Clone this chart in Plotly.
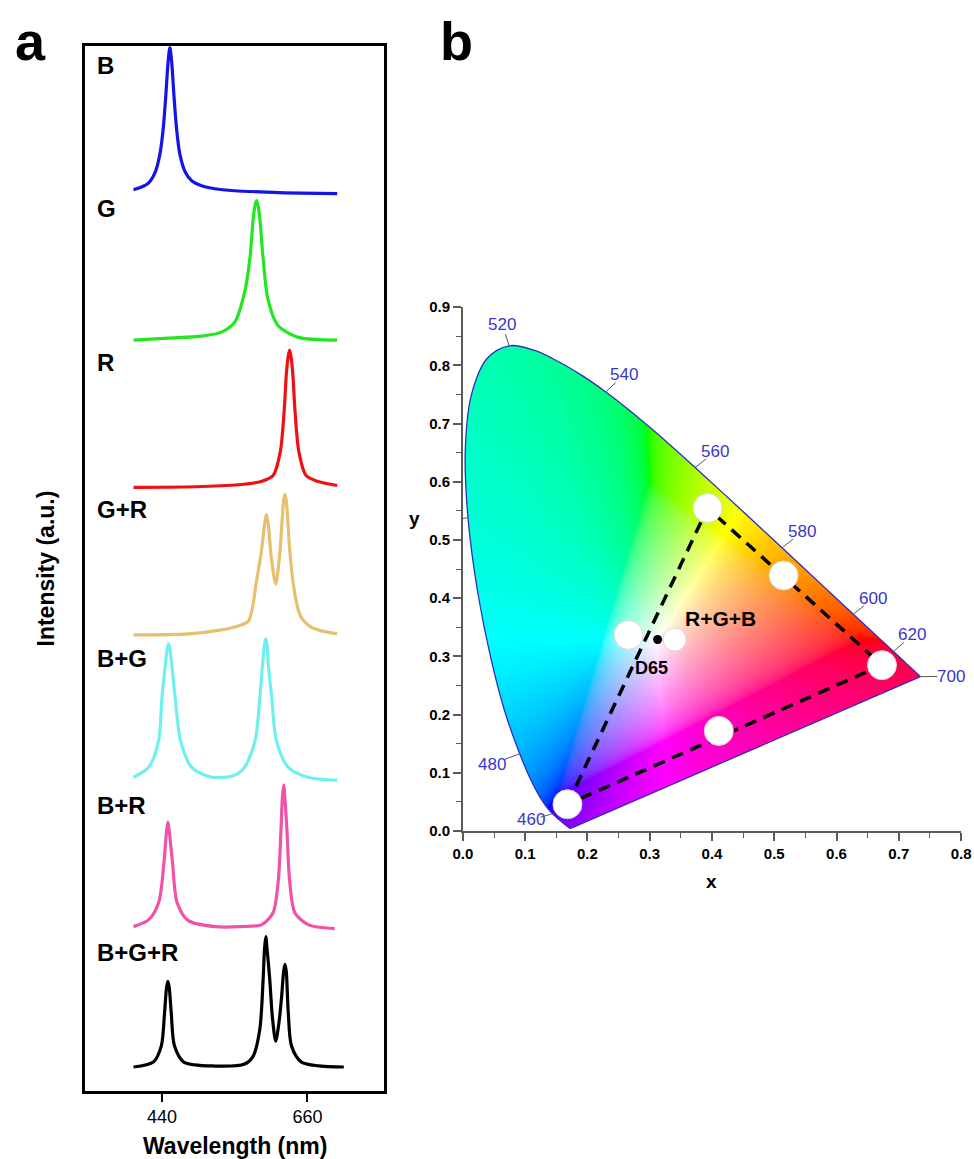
import numpy as np
import plotly.graph_objects as go
import zlib, struct, base64

# ---------------- Panel a data (wavelength nm, intensity above own baseline, a.u.) ----------------
B_WL = [397, 410, 420, 430, 437, 442, 446, 449, 452, 455, 458, 462, 467, 475, 485, 500, 520, 550, 600, 650, 705]
B_I = [4, 7, 11, 22, 40, 66, 100, 130, 147, 130, 100, 66, 40, 22, 13, 8, 5, 3, 1.5, 0.5, 0]

G_WL = [397, 450, 500, 530, 550, 565, 573, 578, 581, 583, 585, 588, 593, 600, 615, 645, 705]
G_I = [0, 2, 4, 8, 18, 48, 82, 122, 136, 140, 136, 122, 82, 42, 15, 3, 0]

R_WL = [397, 500, 560, 590, 608, 619, 625, 628, 631, 633, 635, 638, 641, 647, 658, 676, 705]
R_I = [0, 1, 3, 6, 12, 36, 79, 113, 132, 138, 132, 113, 79, 36, 12, 6, 2]

GR_WL = [397, 480, 530, 555, 571, 583, 591, 595, 598, 601, 605, 612, 618, 622, 624, 626, 628, 630, 633, 638, 645, 651, 665, 681, 705]
GR_I = [0, 1, 5, 9, 14, 54, 87, 110, 121, 110, 80, 51, 80, 118, 135, 141, 135, 118, 87, 54, 28, 17, 8, 4, 1]

BG_WL = [397, 420, 435, 440, 445, 448, 450, 452, 455, 460, 468, 485, 515, 550, 565, 581, 588, 592, 595, 597, 599, 601, 606, 613, 631, 661, 705]
BG_I = [3, 13, 40, 83, 115, 132, 137, 132, 115, 83, 40, 13, 3, 5, 13, 40, 83, 115, 136, 142, 136, 115, 83, 40, 13, 3, 0]

BR_WL = [397, 420, 435, 443, 447, 449, 451, 456, 463, 480, 520, 560, 591, 608, 616, 620, 622, 624, 626, 629, 633, 641, 661, 701]
BR_I = [2, 9, 26, 66, 98, 107, 98, 66, 26, 8, 2, 2, 4, 16, 49, 99, 130, 144, 130, 99, 49, 16, 4, 0]

BGR_WL = [397, 427, 439, 444, 447, 449, 451, 454, 459, 473, 520, 565, 578, 588, 593, 595, 597, 599, 603, 607, 612, 617, 621, 624, 626, 628, 631, 636, 651, 715]
BGR_I = [0, 5, 21, 55, 80, 86, 80, 55, 21, 5, 1, 3, 11, 38, 88, 118, 131, 118, 88, 50, 26, 45, 71, 96, 103, 96, 55, 21, 5, 0]

SPEC_NAMES = ["B", "G", "R", "G+R", "B+G", "B+R", "B+G+R"]
SPEC_WL = [B_WL, G_WL, R_WL, GR_WL, BG_WL, BR_WL, BGR_WL]
SPEC_I = [B_I, G_I, R_I, GR_I, BG_I, BR_I, BGR_I]
BASELINES = [901, 754, 606, 458, 312, 163, 24]
SPEC_COLORS = ["#1414e6", "#22e622", "#ee1111", "#e6c06e", "#6ff0ee", "#f052a8", "#000000"]
LABEL_Y = [1030, 886, 732, 584, 434, 287, 139]
X_TICKS_A = [440, 660]

# ---------------- Panel b data: CIE 1931 spectral locus ----------------
LOCUS_WL = list(range(380, 705, 5))
LOCUS_X = [0.1741, 0.1740, 0.1738, 0.1736, 0.1733, 0.1730, 0.1726, 0.1721, 0.1714, 0.1703,
           0.1689, 0.1669, 0.1644, 0.1611, 0.1566, 0.1510, 0.1440, 0.1355, 0.1241, 0.1096,
           0.0913, 0.0687, 0.0454, 0.0235, 0.0082, 0.0039, 0.0139, 0.0389, 0.0743, 0.1142,
           0.1547, 0.1929, 0.2296, 0.2658, 0.3016, 0.3373, 0.3731, 0.4087, 0.4441, 0.4788,
           0.5125, 0.5448, 0.5752, 0.6029, 0.6270, 0.6482, 0.6658, 0.6801, 0.6915, 0.7006,
           0.7079, 0.7140, 0.7190, 0.7230, 0.7260, 0.7283, 0.7300, 0.7311, 0.7320, 0.7327,
           0.7334, 0.7340, 0.7344, 0.7346, 0.7347]
LOCUS_Y = [0.0050, 0.0050, 0.0049, 0.0049, 0.0048, 0.0048, 0.0048, 0.0048, 0.0051, 0.0058,
           0.0069, 0.0086, 0.0109, 0.0138, 0.0177, 0.0227, 0.0297, 0.0399, 0.0578, 0.0868,
           0.1327, 0.2007, 0.2950, 0.4127, 0.5384, 0.6548, 0.7502, 0.8120, 0.8338, 0.8262,
           0.8059, 0.7816, 0.7543, 0.7243, 0.6923, 0.6589, 0.6245, 0.5896, 0.5547, 0.5202,
           0.4866, 0.4544, 0.4242, 0.3965, 0.3725, 0.3514, 0.3340, 0.3197, 0.3083, 0.2993,
           0.2920, 0.2859, 0.2809, 0.2770, 0.2740, 0.2717, 0.2700, 0.2689, 0.2680, 0.2673,
           0.2666, 0.2660, 0.2656, 0.2654, 0.2653]

WL_LABELS = [460, 480, 500, 520, 540, 560, 580, 600, 620, 700]
WL_LABEL_X = [0.109, 0.047, -0.038, 0.0635, 0.258, 0.405, 0.545, 0.658, 0.722, 0.784]
WL_LABEL_Y = [0.019, 0.115, 0.530, 0.870, 0.784, 0.652, 0.514, 0.399, 0.337, 0.266]

# measured colour coordinates: B, G, R, B+G, G+R, B+R
LED_X = [0.168, 0.393, 0.673, 0.266, 0.515, 0.411]
LED_Y = [0.046, 0.555, 0.285, 0.337, 0.439, 0.172]
MIX_X, MIX_Y = [0.340], [0.329]
D65_X, D65_Y = [0.3127], [0.3290]

# ---------------- helpers: target picture pixel -> paper ----------------
W, H = 974, 1159
SX, BX = 0.983, 7.5
SY, BY = 0.9895, 5.5


def fx(px):
    return ((px - BX) / SX) / W


def fy(py):
    return 1 - ((py - BY) / SY) / H


FONT = "Liberation Sans, Arial, sans-serif"
NARROW = "Liberation Sans Narrow, Liberation Sans, Arial, sans-serif"

fig = go.Figure()

# ---------------- Panel a traces ----------------
for name, wl, inten, base, col in zip(SPEC_NAMES, SPEC_WL, SPEC_I, BASELINES, SPEC_COLORS):
    fig.add_trace(go.Scatter(
        x=wl, y=[base + v for v in inten], mode="lines",
        line=dict(color=col, width=3.2, shape="spline", smoothing=0.8),
        xaxis="x", yaxis="y", showlegend=False, hoverinfo="skip"))

for name, ly in zip(SPEC_NAMES, LABEL_Y):
    fig.add_annotation(x=339, y=ly, xref="x", yref="y", text=f"<b>{name}</b>",
                       showarrow=False, xanchor="left", yanchor="middle",
                       font=dict(family=FONT, size=24, color="black"))


# ---------------- Panel b: chromaticity colour field as image ----------------
def catmull(xs, ys, n=12):
    P = np.column_stack([xs, ys])
    P = np.vstack([P[0], P, P[-1]])
    out = []
    for i in range(1, len(P) - 2):
        p0, p1, p2, p3 = P[i - 1], P[i], P[i + 1], P[i + 2]
        for t in np.linspace(0, 1, n, endpoint=False):
            t2, t3 = t * t, t * t * t
            out.append(0.5 * ((2 * p1) + (-p0 + p2) * t + (2 * p0 - 5 * p1 + 4 * p2 - p3) * t2
                              + (-p0 + 3 * p1 - 3 * p2 + p3) * t3))
    out.append(P[-2])
    return np.array(out)


NXI, NYI = 640, 720
XMAX, YMAX = 0.75, 0.85
xc = (np.arange(NXI) + 0.5) / NXI * XMAX
yc = YMAX - (np.arange(NYI) + 0.5) / NYI * YMAX
XX, YY = np.meshgrid(xc, yc)
Xc = XX / YY
Zc = (1 - XX - YY) / YY
M = np.array([[3.2406, -1.5372, -0.4986], [-0.9689, 1.8758, 0.0415], [0.0557, -0.2040, 1.0570]])
rgb = np.stack([M[i, 0] * Xc + M[i, 1] * 1.0 + M[i, 2] * Zc for i in range(3)], axis=-1)
rgb = rgb - np.minimum(rgb.min(axis=-1, keepdims=True), 0)   # desaturate out-of-gamut with white
rgb = rgb / np.maximum(rgb.max(axis=-1, keepdims=True), 1e-9)
rgb = np.where(rgb <= 0.0031308, 12.92 * rgb, 1.055 * np.power(rgb, 1 / 2.4) - 0.055)
poly = catmull(LOCUS_X, LOCUS_Y)
px_ = np.append(poly[:, 0], poly[0, 0])
py_ = np.append(poly[:, 1], poly[0, 1])
inside = np.zeros(XX.shape, dtype=bool)
for i in range(len(px_) - 1):
    x1, y1, x2, y2 = px_[i], py_[i], px_[i + 1], py_[i + 1]
    if y1 == y2:
        continue
    cond = ((y1 > YY) != (y2 > YY))
    xint = x1 + (YY - y1) * (x2 - x1) / (y2 - y1)
    inside ^= cond & (XX < xint)
rgba = np.zeros((NYI, NXI, 4), dtype=np.uint8)
rgba[..., :3] = np.clip(rgb * 255 + 0.5, 0, 255).astype(np.uint8)
rgba[..., 3] = np.where(inside, 255, 0).astype(np.uint8)


def png_bytes(arr):
    h, w, _ = arr.shape
    raw = b"".join(b"\x00" + arr[i].tobytes() for i in range(h))

    def chunk(t, d):
        c = struct.pack(">I", len(d)) + t + d
        return c + struct.pack(">I", zlib.crc32(t + d) & 0xffffffff)
    return (b"\x89PNG\r\n\x1a\n" + chunk(b"IHDR", struct.pack(">IIBBBBB", w, h, 8, 6, 0, 0, 0))
            + chunk(b"IDAT", zlib.compress(raw, 9)) + chunk(b"IEND", b""))


src = "data:image/png;base64," + base64.b64encode(png_bytes(rgba)).decode()
fig.add_layout_image(dict(source=src, xref="x2", yref="y2", x=0, y=YMAX, sizex=XMAX, sizey=YMAX,
                          sizing="stretch", xanchor="left", yanchor="top", layer="below"))

# locus outline (smooth) + line of purples (straight)
LOC_COL = "rgb(45,45,190)"
fig.add_trace(go.Scatter(x=LOCUS_X, y=LOCUS_Y, mode="lines",
                         line=dict(color=LOC_COL, width=1.3, shape="spline", smoothing=1.0),
                         xaxis="x2", yaxis="y2", showlegend=False, hoverinfo="skip"))
fig.add_trace(go.Scatter(x=[LOCUS_X[0], LOCUS_X[-1]], y=[LOCUS_Y[0], LOCUS_Y[-1]], mode="lines",
                         line=dict(color=LOC_COL, width=1.3),
                         xaxis="x2", yaxis="y2", showlegend=False, hoverinfo="skip"))

# wavelength ticks on locus
tx, ty = [], []
for wl, lx, ly in zip(WL_LABELS, WL_LABEL_X, WL_LABEL_Y):
    k = LOCUS_WL.index(wl)
    x0, y0 = LOCUS_X[k], LOCUS_Y[k]
    tx += [x0, x0 + 0.55 * (lx - x0), None]
    ty += [y0, y0 + 0.55 * (ly - y0), None]
    fig.add_annotation(x=lx, y=ly, xref="x2", yref="y2", text=str(wl), showarrow=False,
                       xanchor="center", yanchor="middle",
                       font=dict(family=NARROW, size=17, color="rgb(55,55,205)"))
fig.add_trace(go.Scatter(x=tx, y=ty, mode="lines", line=dict(color="rgb(90,90,90)", width=1),
                         xaxis="x2", yaxis="y2", showlegend=False, hoverinfo="skip"))

# dashed gamut triangle B -> G -> R -> B
fig.add_trace(go.Scatter(x=[LED_X[0], LED_X[1], LED_X[2], LED_X[0]],
                         y=[LED_Y[0], LED_Y[1], LED_Y[2], LED_Y[0]], mode="lines",
                         line=dict(color="black", width=3.5, dash="12px,8px"),
                         xaxis="x2", yaxis="y2", showlegend=False, hoverinfo="skip"))

# LED points
fig.add_trace(go.Scatter(x=LED_X, y=LED_Y, mode="markers",
                         marker=dict(size=29, color="white", line=dict(color="#d8d8d8", width=1)),
                         xaxis="x2", yaxis="y2", showlegend=False, hoverinfo="skip"))
fig.add_trace(go.Scatter(x=MIX_X, y=MIX_Y, mode="markers",
                         marker=dict(size=23, color="white", line=dict(color="#d8d8d8", width=1)),
                         xaxis="x2", yaxis="y2", showlegend=False, hoverinfo="skip"))
fig.add_trace(go.Scatter(x=D65_X, y=D65_Y, mode="markers",
                         marker=dict(size=9, color="black"),
                         xaxis="x2", yaxis="y2", showlegend=False, hoverinfo="skip"))

fig.add_annotation(x=0.413, y=0.365, xref="x2", yref="y2", text="<b>R+G+B</b>", showarrow=False,
                   xanchor="center", yanchor="middle", font=dict(family=FONT, size=21, color="black"))
fig.add_annotation(x=0.303, y=0.280, xref="x2", yref="y2", text="<b>D65</b>", showarrow=False,
                   xanchor="center", yanchor="middle", font=dict(family=FONT, size=18, color="black"))


# ---------------- Titles / panel letters ----------------
def page_text(px, py, text, size, angle=0, yanchor="middle"):
    fig.add_annotation(x=fx(px), y=fy(py), xref="paper", yref="paper", text=text, showarrow=False,
                       xanchor="center", yanchor=yanchor, textangle=angle,
                       font=dict(family=FONT, size=size, color="black"))


page_text(28, 6, "<b>a</b>", 54, yanchor="top")
page_text(456, 6, "<b>b</b>", 54, yanchor="top")
page_text(44, 567, "<b>Intensity (a.u.)</b>", 23, -90)
page_text(233, 1147, "<b>Wavelength (nm)</b>", 23)
page_text(712, 882, "<b>x</b>", 19)
page_text(413, 517, "<b>y</b>", 19)

axis_b = dict(showgrid=False, zeroline=False, showline=True, linecolor="#5a5a5a", linewidth=1.5,
              ticks="outside", ticklen=8, tickwidth=1.5, tickcolor="#5a5a5a", dtick=0.1, tick0=0,
              tickformat=".1f", ticklabeloverflow="allow",
              tickfont=dict(family=FONT, size=15, color="black", weight="bold"),
              minor=dict(ticks="outside", ticklen=5, tickwidth=1.2, tickcolor="#5a5a5a", dtick=0.05))

fig.update_layout(
    width=W, height=H, margin=dict(l=0, r=0, t=0, b=0),
    paper_bgcolor="white", plot_bgcolor="white", showlegend=False,
    xaxis=dict(domain=[fx(83), fx(383)], range=[324, 776], anchor="y", showgrid=False, zeroline=False,
               showline=True, mirror=True, linecolor="black", linewidth=2.5,
               tickvals=X_TICKS_A, ticks="outside", ticklen=8, tickwidth=2, tickcolor="black",
               tickfont=dict(family=FONT, size=18, color="black")),
    yaxis=dict(domain=[fy(1092), fy(43)], range=[0, 1049], anchor="x", showgrid=False, zeroline=False,
               showline=True, mirror=True, linecolor="black", linewidth=2.5, showticklabels=False,
               ticks=""),
    xaxis2=dict(domain=[fx(462), fx(962)], range=[0, 0.8], anchor="y2", **axis_b),
    yaxis2=dict(domain=[fy(831), fy(305)], range=[0, 0.9], anchor="x2", **axis_b),
)

POST = ("document.body.style.margin='0';document.body.style.padding='0';"
        "var d=document.getElementById('{plot_id}');d.style.position='absolute';"
        "d.style.left='0px';d.style.top='0px';")
fig.write_html("out.html", post_script=POST, config={"displayModeBar": False})
